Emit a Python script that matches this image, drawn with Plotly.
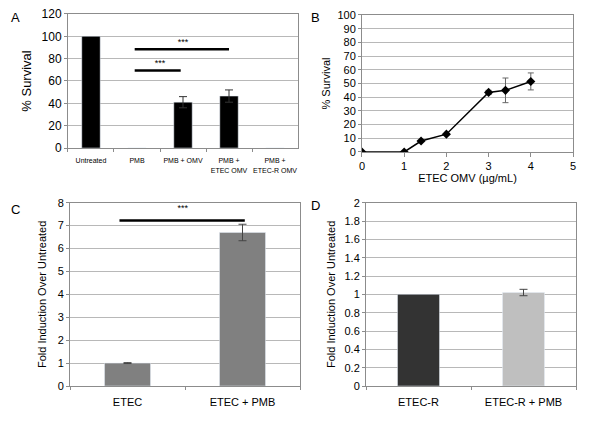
import plotly.graph_objects as go

# Panel A
a_cats = ["Untreated", "PMB", "PMB + OMV", "PMB +<br>ETEC OMV", "PMB +<br>ETEC-R OMV"]
a_vals = [100, 0, 41, 46.5, 0]
a_err = [None, None, 5, 5.5, None]
a_sig_x0 = [0.95, 0.95]
a_sig_x1 = [1.95, 3.0]
a_sig_y = [69.5, 88.5]
a_star_x = [1.5, 2.0]
a_star_y = [75, 94]

# Panel B
b_x = [0, 1, 1.4, 2, 3, 3.4, 4]
b_y = [0, 0, 8, 13, 43.5, 45, 51.5]
b_err = [None, None, None, None, 1.5, 9, 6.2]

# Panel C
c_cats = ["ETEC", "ETEC + PMB"]
c_vals = [1.0, 6.7]
c_err = [0.02, 0.36]
c_sig_x = [-0.07, 1.02]
c_sig_y = 7.22
c_star_y = 7.72

# Panel D
d_cats = ["ETEC-R", "ETEC-R + PMB"]
d_vals = [1.0, 1.02]
d_err = [None, 0.035]
d_colors = ["#333333", "#bfbfbf"]

FONT = "Liberation Sans, Arial, sans-serif"
GRID = "#b8b8b8"
BORDER = "#8c8c8c"

fig = go.Figure()


def err_trace(xs, ys, errs, xaxis, yaxis, color, width):
    pts = [(x, y, e) for x, y, e in zip(xs, ys, errs) if e is not None]
    return go.Scatter(x=[p[0] for p in pts], y=[p[1] for p in pts], mode="markers",
                      marker=dict(size=1, opacity=0),
                      error_y=dict(type="data", array=[p[2] for p in pts], color=color,
                                   thickness=1, width=width),
                      xaxis=xaxis, yaxis=yaxis, showlegend=False, hoverinfo="skip")


# A
fig.add_trace(go.Bar(x=a_cats, y=a_vals, marker_color="black",
                     xaxis="x", yaxis="y", showlegend=False))
fig.add_trace(err_trace(a_cats, a_vals, a_err, "x", "y", "#333333", 4))
for x0, x1, y in zip(a_sig_x0, a_sig_x1, a_sig_y):
    fig.add_trace(go.Scatter(x=[x0, x1], y=[y, y], mode="lines", line=dict(color="black", width=2.5),
                             xaxis="x5", yaxis="y", showlegend=False))
fig.add_trace(go.Scatter(x=a_star_x, y=a_star_y, mode="text", text=["***", "***"],
                         textfont=dict(size=9, color="black", family=FONT),
                         xaxis="x5", yaxis="y", showlegend=False))

# B
fig.add_trace(err_trace(b_x, b_y, b_err, "x2", "y2", "#666666", 3))
fig.add_trace(go.Scatter(x=b_x, y=b_y, mode="lines+markers",
                         line=dict(color="black", width=1.5),
                         marker=dict(symbol="diamond", size=7, color="black"),
                         xaxis="x2", yaxis="y2", showlegend=False))

# C
fig.add_trace(go.Bar(x=c_cats, y=c_vals, marker_color="#808080",
                     xaxis="x3", yaxis="y3", showlegend=False))
fig.add_trace(err_trace(c_cats, c_vals, c_err, "x3", "y3", "#444444", 4))
fig.add_trace(go.Scatter(x=c_sig_x, y=[c_sig_y, c_sig_y], mode="lines", line=dict(color="black", width=2.5),
                         xaxis="x6", yaxis="y3", showlegend=False))
fig.add_trace(go.Scatter(x=[0.48], y=[c_star_y], mode="text", text=["***"],
                         textfont=dict(size=9, color="black", family=FONT),
                         xaxis="x6", yaxis="y3", showlegend=False))

# D
fig.add_trace(go.Bar(x=d_cats, y=d_vals, marker_color=d_colors,
                     xaxis="x4", yaxis="y4", showlegend=False))
fig.add_trace(err_trace(d_cats, d_vals, d_err, "x4", "y4", "#444444", 4))


def yax(dom, anchor, rng, dtick, title, tfs=11, title_fs=12, standoff=None):
    d = dict(domain=dom, anchor=anchor, range=rng, dtick=dtick, showgrid=True, gridcolor=GRID, gridwidth=1,
             showline=True, linecolor=BORDER, mirror=True, ticks="outside", ticklen=3,
             tickcolor=BORDER, tickfont=dict(size=tfs, family=FONT, color="black"),
             zeroline=False, fixedrange=True, tickformat="~g", automargin=False,
             title=dict(text=title, font=dict(size=title_fs, family=FONT, color="black")))
    if standoff is not None:
        d["title"]["standoff"] = standoff
    return d


def xcat(dom, anchor, tfs):
    return dict(domain=dom, anchor=anchor, type="category", showline=True, linecolor=BORDER,
                mirror=True, ticks="outside", ticklen=3, tickcolor=BORDER, tickson="boundaries",
                tickfont=dict(size=tfs, family=FONT, color="black"), showgrid=False,
                ticklabelstandoff=6, tickangle=0, automargin=False)


fig.update_layout(
    width=600, height=428, margin=dict(l=0, r=0, t=0, b=0, pad=0, autoexpand=False),
    plot_bgcolor="white", paper_bgcolor="white", bargap=0.6,
    font=dict(family=FONT, color="black"),
    xaxis=xcat([0.1133, 0.4967], "y", 7),
    yaxis=yax([0.6542, 0.9673], "x", [0, 120], 20, "% Survival", tfs=12, title_fs=13, standoff=6),
    xaxis5=dict(domain=[0.1133, 0.4967], anchor="y", overlaying="x", range=[-0.5, 4.5], visible=False),
    xaxis2=dict(domain=[0.6033, 0.955], anchor="y2", range=[0, 5], dtick=1, showgrid=False,
                showline=True, linecolor=BORDER, mirror=True, ticks="outside", ticklen=4,
                tickcolor=BORDER, zeroline=False, automargin=False,
                tickfont=dict(size=11, family=FONT, color="black"),
                title=dict(text="ETEC OMV (\u00b5g/mL)", font=dict(size=11, family=FONT, color="black"), standoff=3)),
    yaxis2=yax([0.6449, 0.965], "x2", [0, 100], 10, "% Survival", tfs=11, title_fs=11, standoff=4),
    xaxis3=xcat([0.1167, 0.5], "y3", 11),
    yaxis3=yax([0.0981, 0.5264], "x3", [0, 8], 1, "Fold Induction Over Untreated", tfs=11, title_fs=11, standoff=8),
    xaxis6=dict(domain=[0.1167, 0.5], anchor="y3", overlaying="x3", range=[-0.5, 1.5], visible=False),
    xaxis4=xcat([0.61, 0.96], "y4", 11),
    yaxis4=yax([0.0981, 0.5264], "x4", [0, 2], 0.2, "Fold Induction Over Untreated", tfs=11, title_fs=11, standoff=6),
)

for letter, x, y in [("A", 15, 17), ("B", 316, 17), ("C", 15, 209), ("D", 316, 205)]:
    fig.add_annotation(text=letter, x=x / 600, y=1 - y / 428, xref="paper", yref="paper",
                       xanchor="center", yanchor="middle",
                       showarrow=False, font=dict(size=13, family=FONT, color="black"))

fig.write_html("out.html", config={"displayModeBar": False},
               post_script="document.body.style.margin='0px';document.body.style.overflow='hidden';")
